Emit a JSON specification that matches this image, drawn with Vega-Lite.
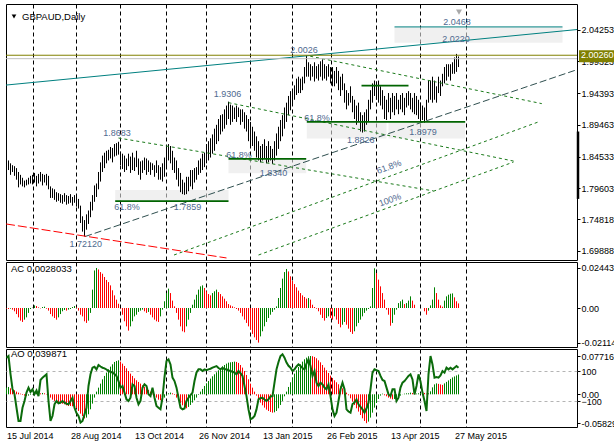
{
  "$schema": "https://vega.github.io/schema/vega-lite/v6.json",
  "background": "white",
  "padding": {"left": 2, "top": 3, "right": 0, "bottom": 0},
  "bounds": "flush",
  "spacing": 2,
  "config": {
    "view": {"stroke": "#000000", "strokeWidth": 1},
    "axis": {"labelFont": "Liberation Sans", "labelFontSize": 9, "labelColor": "#000000", "domain": false, "labelOverlap": false, "labelFlush": false},
    "text": {"font": "Liberation Sans", "fontSize": 9}
  },
  "datasets": {
    "d": [
      {"i":0,"h":1.8378,"l":1.8214,"ac":-0.0004,"ao":0.0134,"cci":189},
      {"i":1,"h":1.8393,"l":1.8244,"ac":-0.0006,"ao":0.0148,"cci":200},
      {"i":2,"h":1.8348,"l":1.8169,"ac":-0.0004,"ao":0.0121,"cci":80},
      {"i":3,"h":1.8319,"l":1.8214,"ac":-0.0010,"ao":0.0101,"cci":-20},
      {"i":4,"h":1.8304,"l":1.8154,"ac":-0.0020,"ao":0.0081,"cci":-55},
      {"i":5,"h":1.8274,"l":1.8094,"ac":-0.0037,"ao":0.0054,"cci":-145},
      {"i":6,"h":1.8214,"l":1.7975,"ac":-0.0057,"ao":0.0034,"cci":-233},
      {"i":7,"h":1.8169,"l":1.8020,"ac":-0.0077,"ao":0.0013,"cci":-233},
      {"i":8,"h":1.8124,"l":1.7990,"ac":-0.0085,"ao":-0.0013,"cci":-145},
      {"i":9,"h":1.8080,"l":1.7975,"ac":-0.0071,"ao":-0.0027,"cci":-100},
      {"i":10,"h":1.8094,"l":1.8005,"ac":-0.0057,"ao":-0.0034,"cci":-44},
      {"i":11,"h":1.8124,"l":1.8020,"ac":-0.0030,"ao":-0.0027,"cci":-11},
      {"i":12,"h":1.8154,"l":1.8035,"ac":-0.0006,"ao":-0.0013,"cci":-40},
      {"i":13,"h":1.8169,"l":1.8020,"ac":0.0002,"ao":0.0007,"cci":-22},
      {"i":14,"h":1.8199,"l":1.8050,"ac":0.0016,"ao":0.0020,"cci":-55},
      {"i":15,"h":1.8154,"l":1.7990,"ac":0.0012,"ao":0.0027,"cci":-30},
      {"i":16,"h":1.8184,"l":1.8035,"ac":0.0004,"ao":0.0020,"cci":-67},
      {"i":17,"h":1.8214,"l":1.8065,"ac":-0.0002,"ao":0.0019,"cci":40},
      {"i":18,"h":1.8184,"l":1.8005,"ac":0.0006,"ao":0.0027,"cci":56},
      {"i":19,"h":1.8169,"l":1.8050,"ac":0.0008,"ao":0.0020,"cci":67},
      {"i":20,"h":1.8184,"l":1.8005,"ac":-0.0004,"ao":-0.0007,"cci":78},
      {"i":21,"h":1.8154,"l":1.7945,"ac":-0.0016,"ao":-0.0034,"cci":-100},
      {"i":22,"h":1.7990,"l":1.7811,"ac":-0.0037,"ao":-0.0067,"cci":-233},
      {"i":23,"h":1.7960,"l":1.7811,"ac":-0.0051,"ao":-0.0108,"cci":-200},
      {"i":24,"h":1.7945,"l":1.7781,"ac":-0.0061,"ao":-0.0134,"cci":-122},
      {"i":25,"h":1.7900,"l":1.7751,"ac":-0.0071,"ao":-0.0168,"cci":-100},
      {"i":26,"h":1.7885,"l":1.7766,"ac":-0.0057,"ao":-0.0181,"cci":-115},
      {"i":27,"h":1.7870,"l":1.7736,"ac":-0.0037,"ao":-0.0188,"cci":-110},
      {"i":28,"h":1.7855,"l":1.7721,"ac":-0.0020,"ao":-0.0190,"cci":-100},
      {"i":29,"h":1.7885,"l":1.7751,"ac":-0.0012,"ao":-0.0202,"cci":-111},
      {"i":30,"h":1.7855,"l":1.7706,"ac":-0.0016,"ao":-0.0222,"cci":-118},
      {"i":31,"h":1.7841,"l":1.7721,"ac":-0.0010,"ao":-0.0235,"cci":-122},
      {"i":32,"h":1.7870,"l":1.7736,"ac":-0.0006,"ao":-0.0236,"cci":-100},
      {"i":33,"h":1.7826,"l":1.7691,"ac":0.0006,"ao":-0.0242,"cci":-78},
      {"i":34,"h":1.7855,"l":1.7736,"ac":0.0012,"ao":-0.0255,"cci":-145},
      {"i":35,"h":1.7841,"l":1.7676,"ac":0.0004,"ao":-0.0282,"cci":-180},
      {"i":36,"h":1.7796,"l":1.7646,"ac":-0.0016,"ao":-0.0336,"cci":-200},
      {"i":37,"h":1.7691,"l":1.7422,"ac":-0.0041,"ao":-0.0390,"cci":-244},
      {"i":38,"h":1.7526,"l":1.7288,"ac":-0.0051,"ao":-0.0437,"cci":-233},
      {"i":39,"h":1.7467,"l":1.7212,"ac":-0.0081,"ao":-0.0484,"cci":-189},
      {"i":40,"h":1.7556,"l":1.7318,"ac":-0.0091,"ao":-0.0470,"cci":-145},
      {"i":41,"h":1.7616,"l":1.7407,"ac":-0.0077,"ao":-0.0403,"cci":0},
      {"i":42,"h":1.7751,"l":1.7512,"ac":-0.0030,"ao":-0.0302,"cci":78},
      {"i":43,"h":1.7855,"l":1.7616,"ac":0.0112,"ao":-0.0188,"cci":122},
      {"i":44,"h":1.8005,"l":1.7751,"ac":0.0229,"ao":-0.0067,"cci":128},
      {"i":45,"h":1.8035,"l":1.7826,"ac":0.0244,"ao":0.0054,"cci":111},
      {"i":46,"h":1.8214,"l":1.7945,"ac":0.0235,"ao":0.0134,"cci":140},
      {"i":47,"h":1.8363,"l":1.8065,"ac":0.0219,"ao":0.0215,"cci":130},
      {"i":48,"h":1.8468,"l":1.8214,"ac":0.0209,"ao":0.0302,"cci":122},
      {"i":49,"h":1.8513,"l":1.8274,"ac":0.0189,"ao":0.0370,"cci":118},
      {"i":50,"h":1.8543,"l":1.8348,"ac":0.0171,"ao":0.0437,"cci":110},
      {"i":51,"h":1.8558,"l":1.8393,"ac":0.0158,"ao":0.0504,"cci":100},
      {"i":52,"h":1.8602,"l":1.8423,"ac":0.0138,"ao":0.0558,"cci":95},
      {"i":53,"h":1.8587,"l":1.8363,"ac":0.0108,"ao":0.0605,"cci":89},
      {"i":54,"h":1.8647,"l":1.8453,"ac":0.0077,"ao":0.0652,"cci":80},
      {"i":55,"h":1.8662,"l":1.8468,"ac":0.0051,"ao":0.0672,"cci":67},
      {"i":56,"h":1.8683,"l":1.8483,"ac":0.0026,"ao":0.0685,"cci":33},
      {"i":57,"h":1.8528,"l":1.8319,"ac":-0.0004,"ao":0.0659,"cci":-11},
      {"i":58,"h":1.8498,"l":1.8259,"ac":-0.0041,"ao":0.0618,"cci":0},
      {"i":59,"h":1.8468,"l":1.8214,"ac":-0.0081,"ao":0.0571,"cci":-44},
      {"i":60,"h":1.8423,"l":1.8244,"ac":-0.0112,"ao":0.0524,"cci":-89},
      {"i":61,"h":1.8498,"l":1.8304,"ac":-0.0138,"ao":0.0470,"cci":-100},
      {"i":62,"h":1.8453,"l":1.8199,"ac":-0.0112,"ao":0.0417,"cci":-78},
      {"i":63,"h":1.8513,"l":1.8244,"ac":-0.0081,"ao":0.0370,"cci":11},
      {"i":64,"h":1.8438,"l":1.8229,"ac":-0.0051,"ao":0.0323,"cci":0},
      {"i":65,"h":1.8543,"l":1.8289,"ac":-0.0041,"ao":0.0282,"cci":-78},
      {"i":66,"h":1.8423,"l":1.8169,"ac":-0.0024,"ao":0.0249,"cci":-122},
      {"i":67,"h":1.8378,"l":1.8094,"ac":-0.0016,"ao":0.0215,"cci":-100},
      {"i":68,"h":1.8393,"l":1.8199,"ac":-0.0010,"ao":0.0181,"cci":-11},
      {"i":69,"h":1.8438,"l":1.8244,"ac":-0.0020,"ao":0.0148,"cci":11},
      {"i":70,"h":1.8423,"l":1.8169,"ac":-0.0030,"ao":0.0114,"cci":0},
      {"i":71,"h":1.8393,"l":1.8214,"ac":-0.0024,"ao":0.0087,"cci":-55},
      {"i":72,"h":1.8363,"l":1.8169,"ac":-0.0041,"ao":0.0054,"cci":-67},
      {"i":73,"h":1.8348,"l":1.8244,"ac":-0.0057,"ao":0.0013,"cci":-11},
      {"i":74,"h":1.8319,"l":1.8139,"ac":-0.0071,"ao":-0.0027,"cci":-78},
      {"i":75,"h":1.8393,"l":1.8199,"ac":-0.0081,"ao":-0.0067,"cci":-133},
      {"i":76,"h":1.8319,"l":1.8094,"ac":-0.0085,"ao":-0.0108,"cci":-145},
      {"i":77,"h":1.8289,"l":1.8094,"ac":-0.0051,"ao":-0.0121,"cci":-155},
      {"i":78,"h":1.8348,"l":1.8065,"ac":-0.0010,"ao":-0.0101,"cci":-78},
      {"i":79,"h":1.8438,"l":1.8139,"ac":0.0041,"ao":-0.0067,"cci":60},
      {"i":80,"h":1.8587,"l":1.8289,"ac":0.0091,"ao":-0.0020,"cci":167},
      {"i":81,"h":1.8647,"l":1.8393,"ac":0.0118,"ao":0.0020,"cci":178},
      {"i":82,"h":1.8617,"l":1.8348,"ac":0.0091,"ao":0.0034,"cci":144},
      {"i":83,"h":1.8543,"l":1.8244,"ac":0.0045,"ao":0.0020,"cci":56},
      {"i":84,"h":1.8438,"l":1.8199,"ac":0.0010,"ao":-0.0013,"cci":33},
      {"i":85,"h":1.8393,"l":1.8094,"ac":-0.0030,"ao":-0.0067,"cci":-11},
      {"i":86,"h":1.8274,"l":1.7990,"ac":-0.0071,"ao":-0.0121,"cci":-78},
      {"i":87,"h":1.8199,"l":1.7900,"ac":-0.0112,"ao":-0.0175,"cci":-145},
      {"i":88,"h":1.8094,"l":1.7870,"ac":-0.0142,"ao":-0.0222,"cci":-155},
      {"i":89,"h":1.8050,"l":1.7859,"ac":-0.0148,"ao":-0.0269,"cci":-150},
      {"i":90,"h":1.8139,"l":1.7870,"ac":-0.0112,"ao":-0.0282,"cci":-100},
      {"i":91,"h":1.8139,"l":1.7915,"ac":-0.0071,"ao":-0.0255,"cci":-78},
      {"i":92,"h":1.8244,"l":1.7990,"ac":-0.0030,"ao":-0.0215,"cci":-60},
      {"i":93,"h":1.8244,"l":1.7945,"ac":0.0020,"ao":-0.0168,"cci":-44},
      {"i":94,"h":1.8274,"l":1.8050,"ac":0.0051,"ao":-0.0121,"cci":33},
      {"i":95,"h":1.8289,"l":1.8094,"ac":0.0081,"ao":-0.0067,"cci":90},
      {"i":96,"h":1.8393,"l":1.8169,"ac":0.0112,"ao":-0.0013,"cci":111},
      {"i":97,"h":1.8423,"l":1.8199,"ac":0.0132,"ao":0.0054,"cci":111},
      {"i":98,"h":1.8498,"l":1.8244,"ac":0.0138,"ao":0.0108,"cci":100},
      {"i":99,"h":1.8513,"l":1.8289,"ac":0.0122,"ao":0.0168,"cci":111},
      {"i":100,"h":1.8647,"l":1.8348,"ac":0.0102,"ao":0.0222,"cci":105},
      {"i":101,"h":1.8692,"l":1.8393,"ac":0.0085,"ao":0.0269,"cci":111},
      {"i":102,"h":1.8737,"l":1.8438,"ac":0.0077,"ao":0.0316,"cci":115},
      {"i":103,"h":1.8797,"l":1.8498,"ac":0.0091,"ao":0.0363,"cci":122},
      {"i":104,"h":1.8886,"l":1.8543,"ac":0.0102,"ao":0.0403,"cci":128},
      {"i":105,"h":1.8946,"l":1.8647,"ac":0.0112,"ao":0.0444,"cci":133},
      {"i":106,"h":1.9036,"l":1.8692,"ac":0.0097,"ao":0.0484,"cci":120},
      {"i":107,"h":1.9096,"l":1.8797,"ac":0.0085,"ao":0.0524,"cci":111},
      {"i":108,"h":1.9111,"l":1.8842,"ac":0.0071,"ao":0.0564,"cci":122},
      {"i":109,"h":1.9186,"l":1.8886,"ac":0.0057,"ao":0.0591,"cci":111},
      {"i":110,"h":1.9245,"l":1.8946,"ac":0.0041,"ao":0.0618,"cci":111},
      {"i":111,"h":1.9306,"l":1.9036,"ac":0.0024,"ao":0.0638,"cci":105},
      {"i":112,"h":1.9260,"l":1.8946,"ac":0.0016,"ao":0.0645,"cci":100},
      {"i":113,"h":1.9245,"l":1.8991,"ac":0.0010,"ao":0.0652,"cci":95},
      {"i":114,"h":1.9215,"l":1.9036,"ac":0.0004,"ao":0.0659,"cci":89},
      {"i":115,"h":1.9245,"l":1.8991,"ac":-0.0006,"ao":0.0652,"cci":78},
      {"i":116,"h":1.9215,"l":1.9066,"ac":-0.0016,"ao":0.0632,"cci":100},
      {"i":117,"h":1.9186,"l":1.8946,"ac":-0.0030,"ao":0.0591,"cci":85},
      {"i":118,"h":1.9186,"l":1.8991,"ac":-0.0051,"ao":0.0538,"cci":67},
      {"i":119,"h":1.9141,"l":1.8886,"ac":-0.0071,"ao":0.0470,"cci":0},
      {"i":120,"h":1.9096,"l":1.8842,"ac":-0.0091,"ao":0.0390,"cci":-67},
      {"i":121,"h":1.9036,"l":1.8692,"ac":-0.0112,"ao":0.0302,"cci":-156},
      {"i":122,"h":1.8991,"l":1.8587,"ac":-0.0132,"ao":0.0215,"cci":-222},
      {"i":123,"h":1.8916,"l":1.8617,"ac":-0.0158,"ao":0.0134,"cci":-215},
      {"i":124,"h":1.8842,"l":1.8543,"ac":-0.0179,"ao":0.0054,"cci":-200},
      {"i":125,"h":1.8767,"l":1.8438,"ac":-0.0195,"ao":-0.0027,"cci":-156},
      {"i":126,"h":1.8692,"l":1.8393,"ac":-0.0211,"ao":-0.0101,"cci":-89},
      {"i":127,"h":1.8617,"l":1.8363,"ac":-0.0173,"ao":-0.0168,"cci":-80},
      {"i":128,"h":1.8647,"l":1.8393,"ac":-0.0142,"ao":-0.0222,"cci":-78},
      {"i":129,"h":1.8722,"l":1.8423,"ac":-0.0112,"ao":-0.0269,"cci":-90},
      {"i":130,"h":1.8617,"l":1.8348,"ac":-0.0085,"ao":-0.0309,"cci":-100},
      {"i":131,"h":1.8692,"l":1.8363,"ac":-0.0061,"ao":-0.0336,"cci":-89},
      {"i":132,"h":1.8617,"l":1.8393,"ac":-0.0041,"ao":-0.0356,"cci":-70},
      {"i":133,"h":1.8572,"l":1.8340,"ac":-0.0024,"ao":-0.0370,"cci":-67},
      {"i":134,"h":1.8692,"l":1.8393,"ac":-0.0010,"ao":-0.0363,"cci":22},
      {"i":135,"h":1.8812,"l":1.8468,"ac":0.0010,"ao":-0.0336,"cci":111},
      {"i":136,"h":1.8916,"l":1.8572,"ac":0.0061,"ao":-0.0282,"cci":160},
      {"i":137,"h":1.9021,"l":1.8692,"ac":0.0122,"ao":-0.0215,"cci":200},
      {"i":138,"h":1.9096,"l":1.8767,"ac":0.0179,"ao":-0.0134,"cci":211},
      {"i":139,"h":1.9215,"l":1.8886,"ac":0.0219,"ao":-0.0040,"cci":189},
      {"i":140,"h":1.9290,"l":1.8991,"ac":0.0238,"ao":0.0054,"cci":156},
      {"i":141,"h":1.9394,"l":1.9096,"ac":0.0223,"ao":0.0148,"cci":135},
      {"i":142,"h":1.9469,"l":1.9171,"ac":0.0193,"ao":0.0242,"cci":122},
      {"i":143,"h":1.9484,"l":1.9245,"ac":0.0166,"ao":0.0336,"cci":100},
      {"i":144,"h":1.9559,"l":1.9335,"ac":0.0146,"ao":0.0417,"cci":111},
      {"i":145,"h":1.9663,"l":1.9409,"ac":0.0126,"ao":0.0484,"cci":130},
      {"i":146,"h":1.9693,"l":1.9439,"ac":0.0106,"ao":0.0551,"cci":144},
      {"i":147,"h":1.9663,"l":1.9439,"ac":0.0091,"ao":0.0605,"cci":133},
      {"i":148,"h":1.9693,"l":1.9484,"ac":0.0077,"ao":0.0659,"cci":120},
      {"i":149,"h":1.9843,"l":1.9589,"ac":0.0067,"ao":0.0706,"cci":111},
      {"i":150,"h":2.0026,"l":1.9693,"ac":0.0057,"ao":0.0739,"cci":150},
      {"i":151,"h":1.9917,"l":1.9693,"ac":0.0061,"ao":0.0766,"cci":178},
      {"i":152,"h":1.9887,"l":1.9633,"ac":0.0051,"ao":0.0772,"cci":133},
      {"i":153,"h":1.9857,"l":1.9693,"ac":0.0020,"ao":0.0768,"cci":67},
      {"i":154,"h":1.9917,"l":1.9618,"ac":0.0006,"ao":0.0753,"cci":100},
      {"i":155,"h":1.9857,"l":1.9663,"ac":-0.0004,"ao":0.0726,"cci":22},
      {"i":156,"h":1.9887,"l":1.9633,"ac":-0.0020,"ao":0.0685,"cci":0},
      {"i":157,"h":1.9932,"l":1.9693,"ac":-0.0041,"ao":0.0645,"cci":22},
      {"i":158,"h":1.9962,"l":1.9633,"ac":-0.0061,"ao":0.0591,"cci":11},
      {"i":159,"h":1.9887,"l":1.9663,"ac":-0.0077,"ao":0.0538,"cci":-10},
      {"i":160,"h":1.9857,"l":1.9633,"ac":-0.0061,"ao":0.0484,"cci":-22},
      {"i":161,"h":1.9887,"l":1.9693,"ac":-0.0051,"ao":0.0430,"cci":11},
      {"i":162,"h":1.9843,"l":1.9589,"ac":-0.0061,"ao":0.0376,"cci":-67},
      {"i":163,"h":1.9843,"l":1.9544,"ac":-0.0071,"ao":0.0329,"cci":-156},
      {"i":164,"h":1.9783,"l":1.9544,"ac":-0.0051,"ao":0.0282,"cci":-200},
      {"i":165,"h":1.9843,"l":1.9589,"ac":-0.0071,"ao":0.0242,"cci":-178},
      {"i":166,"h":1.9783,"l":1.9484,"ac":-0.0097,"ao":0.0202,"cci":-100},
      {"i":167,"h":1.9693,"l":1.9394,"ac":-0.0118,"ao":0.0161,"cci":-22},
      {"i":168,"h":1.9738,"l":1.9484,"ac":-0.0102,"ao":0.0121,"cci":22},
      {"i":169,"h":1.9589,"l":1.9290,"ac":-0.0085,"ao":0.0081,"cci":-22},
      {"i":170,"h":1.9484,"l":1.9186,"ac":-0.0102,"ao":0.0034,"cci":-156},
      {"i":171,"h":1.9439,"l":1.9245,"ac":-0.0126,"ao":-0.0020,"cci":-170},
      {"i":172,"h":1.9544,"l":1.9290,"ac":-0.0146,"ao":-0.0081,"cci":-178},
      {"i":173,"h":1.9394,"l":1.9141,"ac":-0.0158,"ao":-0.0148,"cci":-120},
      {"i":174,"h":1.9335,"l":1.9036,"ac":-0.0142,"ao":-0.0215,"cci":-111},
      {"i":175,"h":1.9245,"l":1.8946,"ac":-0.0112,"ao":-0.0282,"cci":-89},
      {"i":176,"h":1.9290,"l":1.8991,"ac":-0.0091,"ao":-0.0349,"cci":-122},
      {"i":177,"h":1.9141,"l":1.8842,"ac":-0.0071,"ao":-0.0417,"cci":-140},
      {"i":178,"h":1.9096,"l":1.8826,"ac":-0.0051,"ao":-0.0484,"cci":-156},
      {"i":179,"h":1.9141,"l":1.8842,"ac":-0.0030,"ao":-0.0538,"cci":-178},
      {"i":180,"h":1.9186,"l":1.8946,"ac":-0.0016,"ao":-0.0583,"cci":-150},
      {"i":181,"h":1.9335,"l":1.8991,"ac":-0.0006,"ao":-0.0551,"cci":-111},
      {"i":182,"h":1.9484,"l":1.9186,"ac":0.0010,"ao":-0.0470,"cci":-22},
      {"i":183,"h":1.9589,"l":1.9290,"ac":0.0122,"ao":-0.0370,"cci":89},
      {"i":184,"h":1.9633,"l":1.9394,"ac":0.0242,"ao":-0.0269,"cci":111},
      {"i":185,"h":1.9618,"l":1.9335,"ac":0.0213,"ao":-0.0175,"cci":105},
      {"i":186,"h":1.9633,"l":1.9290,"ac":0.0173,"ao":-0.0094,"cci":100},
      {"i":187,"h":1.9544,"l":1.9245,"ac":0.0132,"ao":-0.0027,"cci":67},
      {"i":188,"h":1.9484,"l":1.9186,"ac":0.0091,"ao":0.0013,"cci":40},
      {"i":189,"h":1.9394,"l":1.9036,"ac":0.0051,"ao":-0.0020,"cci":33},
      {"i":190,"h":1.9335,"l":1.9021,"ac":-0.0010,"ao":-0.0040,"cci":-11},
      {"i":191,"h":1.9439,"l":1.9141,"ac":-0.0041,"ao":-0.0067,"cci":-56},
      {"i":192,"h":1.9365,"l":1.9036,"ac":-0.0108,"ao":-0.0087,"cci":-67},
      {"i":193,"h":1.9439,"l":1.9141,"ac":-0.0091,"ao":-0.0101,"cci":-22},
      {"i":194,"h":1.9394,"l":1.9096,"ac":-0.0041,"ao":-0.0094,"cci":-22},
      {"i":195,"h":1.9439,"l":1.9186,"ac":-0.0010,"ao":-0.0081,"cci":-100},
      {"i":196,"h":1.9335,"l":1.9111,"ac":0.0030,"ao":-0.0054,"cci":-78},
      {"i":197,"h":1.9409,"l":1.9186,"ac":0.0041,"ao":-0.0027,"cci":-11},
      {"i":198,"h":1.9439,"l":1.9141,"ac":0.0051,"ao":0.0003,"cci":22},
      {"i":199,"h":1.9365,"l":1.9096,"ac":0.0024,"ao":0.0013,"cci":33},
      {"i":200,"h":1.9439,"l":1.9215,"ac":0.0030,"ao":0.0020,"cci":50},
      {"i":201,"h":1.9469,"l":1.9245,"ac":0.0045,"ao":0.0021,"cci":67},
      {"i":202,"h":1.9439,"l":1.9186,"ac":0.0071,"ao":0.0034,"cci":78},
      {"i":203,"h":1.9365,"l":1.9141,"ac":0.0045,"ao":0.0027,"cci":44},
      {"i":204,"h":1.9439,"l":1.9111,"ac":0.0020,"ao":0.0013,"cci":-56},
      {"i":205,"h":1.9394,"l":1.9096,"ac":0.0000,"ao":0.0014,"cci":0},
      {"i":206,"h":1.9335,"l":1.9036,"ac":0.0000,"ao":0.0020,"cci":78},
      {"i":207,"h":1.9290,"l":1.8991,"ac":0.0000,"ao":0.0027,"cci":30},
      {"i":208,"h":1.9245,"l":1.9021,"ac":0.0000,"ao":0.0034,"cci":-44},
      {"i":209,"h":1.9215,"l":1.8979,"ac":-0.0020,"ao":0.0027,"cci":-100},
      {"i":210,"h":1.9335,"l":1.9021,"ac":-0.0041,"ao":0.0013,"cci":-167},
      {"i":211,"h":1.9633,"l":1.9290,"ac":-0.0016,"ao":0.0020,"cci":78},
      {"i":212,"h":1.9633,"l":1.9335,"ac":0.0016,"ao":0.0060,"cci":200},
      {"i":213,"h":1.9693,"l":1.9290,"ac":0.0051,"ao":0.0140,"cci":144},
      {"i":214,"h":1.9633,"l":1.9335,"ac":0.0126,"ao":0.0200,"cci":56},
      {"i":215,"h":1.9544,"l":1.9290,"ac":0.0091,"ao":0.0220,"cci":60},
      {"i":216,"h":1.9693,"l":1.9439,"ac":0.0051,"ao":0.0210,"cci":56},
      {"i":217,"h":1.9633,"l":1.9394,"ac":0.0016,"ao":0.0200,"cci":70},
      {"i":218,"h":1.9738,"l":1.9544,"ac":0.0008,"ao":0.0190,"cci":100},
      {"i":219,"h":1.9843,"l":1.9589,"ac":0.0045,"ao":0.0220,"cci":89},
      {"i":220,"h":1.9887,"l":1.9633,"ac":0.0071,"ao":0.0250,"cci":122},
      {"i":221,"h":1.9887,"l":1.9693,"ac":0.0081,"ao":0.0280,"cci":111},
      {"i":222,"h":1.9887,"l":1.9633,"ac":0.0087,"ao":0.0310,"cci":122},
      {"i":223,"h":1.9917,"l":1.9738,"ac":0.0089,"ao":0.0340,"cci":111},
      {"i":224,"h":1.9992,"l":1.9738,"ac":0.0065,"ao":0.0360,"cci":122},
      {"i":225,"h":2.0047,"l":1.9768,"ac":0.0041,"ao":0.0380,"cci":133},
      {"i":226,"h":2.0007,"l":1.9843,"ac":0.0028,"ao":0.0399,"cci":122}
    ],
    "zones": [
      {"i1":54.35,"i2":111,"p1":1.7761,"p2":1.7935},
      {"i1":111,"i2":149.85,"p1":1.8195,"p2":1.8419},
      {"i1":150.15,"i2":190,"p1":1.8732,"p2":1.8991},
      {"i1":191,"i2":229.35,"p1":1.8732,"p2":1.8991},
      {"i1":194,"i2":278,"p1":2.0221,"p2":2.0466}
    ],
    "segs": [
      {"kind":"channel","i1":-0.25,"p1":1.9563,"i2":285.25,"p2":2.0425},
      {"kind":"channel","i1":194,"p1":2.0466,"i2":278,"p2":2.0466},
      {"kind":"support","i1":-0.25,"p1":1.7407,"i2":110,"p2":1.6879},
      {"kind":"trend","i1":39.35,"p1":1.7212,"i2":285.25,"p2":1.9802},
      {"kind":"fork","i1":151.85,"p1":2.0011,"i2":267.65,"p2":1.9275},
      {"kind":"fork","i1":111,"p1":1.9290,"i2":254.35,"p2":1.8378},
      {"kind":"fork","i1":56,"p1":1.8741,"i2":213.5,"p2":1.7920},
      {"kind":"fork","i1":83.75,"p1":1.6925,"i2":266.85,"p2":1.9001},
      {"kind":"fork","i1":126,"p1":1.6925,"i2":253.5,"p2":1.8368},
      {"kind":"fib","i1":54.35,"p1":1.7761,"i2":111,"p2":1.7761},
      {"kind":"fib","i1":111,"p1":1.8418,"i2":149.85,"p2":1.8418},
      {"kind":"fib","i1":150.15,"p1":1.8991,"i2":229.35,"p2":1.8991},
      {"kind":"fib","i1":177.5,"p1":1.9554,"i2":201,"p2":1.9554}
    ],
    "labels": [
      {"i":39.6,"p":1.7089,"t":"1.72120"},
      {"i":55.25,"p":1.8816,"t":"1.8683"},
      {"i":60.25,"p":1.7672,"t":"61.8%"},
      {"i":90.5,"p":1.7672,"t":"1.7859"},
      {"i":110.5,"p":1.9429,"t":"1.9306"},
      {"i":116.25,"p":1.8483,"t":"61.8%"},
      {"i":133.5,"p":1.8204,"t":"1.8340"},
      {"i":148.75,"p":2.0112,"t":"2.0026"},
      {"i":155.25,"p":1.9058,"t":"61.8%"},
      {"i":177.1,"p":1.8703,"t":"1.8826"},
      {"i":208.25,"p":1.8831,"t":"1.8979"},
      {"i":225.25,"p":2.0549,"t":"2.0468"},
      {"i":224.75,"p":2.0286,"t":"2.0220"}
    ],
    "tines": [
      {"i":191.25,"p":1.8293,"t":"61.8%"},
      {"i":191.75,"p":1.7781,"t":"100%"}
    ],
    "quote": [{"p":2.0026,"t":"2.00260"}],
    "levels": [{"p":1.9973}]
  },
  "vconcat": [
    {
      "width": 571,
      "height": 256,
      "layer": [
        {
          "data": {"name": "zones"},
          "mark": {"type": "rect", "color": "#e6e6e6", "opacity": 0.6},
          "encoding": {
            "x": {"field": "i1", "type": "quantitative", "scale": {"domain": [-0.25, 285.25], "nice": false, "zero": false},
              "axis": {"values": [13.5, 34.5, 56.5, 79.5, 99.5, 121.5, 142.5, 162, 184.5, 206.5, 229.5], "tickCount": 100, "labels": false, "ticks": false, "grid": true, "gridColor": "#000000", "gridDash": [4, 3], "title": null}},
            "x2": {"field": "i2"},
            "y": {"field": "p1", "type": "quantitative", "scale": {"domain": [1.6925, 2.0744], "nice": false, "zero": false},
              "axis": {"orient": "right", "values": [2.04253, 1.99323, 1.94393, 1.89463, 1.84533, 1.79603, 1.74818, 1.69888], "tickCount": 100, "format": ".5f", "labelOverlap": false, "grid": false, "tickSize": 3, "tickColor": "#000000", "labelPadding": 1, "title": null}},
            "y2": {"field": "p2"}
          }
        },
        {
          "data": {"name": "d"},
          "mark": {"type": "rule", "color": "#000000", "strokeWidth": 1},
          "encoding": {
            "x": {"field": "i", "type": "quantitative"},
            "y": {"field": "l", "type": "quantitative"},
            "y2": {"field": "h"}
          }
        },
        {
          "data": {"name": "segs"},
          "transform": [{"filter": "datum.kind === 'channel'"}],
          "mark": {"type": "rule", "color": "#008080", "strokeWidth": 1},
          "encoding": {
            "x": {"field": "i1", "type": "quantitative"},
            "x2": {"field": "i2"},
            "y": {"field": "p1", "type": "quantitative"},
            "y2": {"field": "p2"}
          }
        },
        {
          "data": {"name": "segs"},
          "transform": [{"filter": "datum.kind === 'trend'"}],
          "mark": {"type": "rule", "color": "#2f4f4f", "strokeWidth": 1, "strokeDash": [7, 3]},
          "encoding": {
            "x": {"field": "i1", "type": "quantitative"},
            "x2": {"field": "i2"},
            "y": {"field": "p1", "type": "quantitative"},
            "y2": {"field": "p2"}
          }
        },
        {
          "data": {"name": "segs"},
          "transform": [{"filter": "datum.kind === 'support'"}],
          "mark": {"type": "rule", "color": "#ff0000", "strokeWidth": 1, "strokeDash": [9, 3], "clip": true},
          "encoding": {
            "x": {"field": "i1", "type": "quantitative"},
            "x2": {"field": "i2"},
            "y": {"field": "p1", "type": "quantitative"},
            "y2": {"field": "p2"}
          }
        },
        {
          "data": {"name": "segs"},
          "transform": [{"filter": "datum.kind === 'fork'"}],
          "mark": {"type": "rule", "color": "#1a7a1a", "strokeWidth": 1, "strokeDash": [3, 3], "clip": true},
          "encoding": {
            "x": {"field": "i1", "type": "quantitative"},
            "x2": {"field": "i2"},
            "y": {"field": "p1", "type": "quantitative"},
            "y2": {"field": "p2"}
          }
        },
        {
          "data": {"name": "segs"},
          "transform": [{"filter": "datum.kind === 'fib'"}],
          "mark": {"type": "rule", "color": "#006400", "strokeWidth": 1.6},
          "encoding": {
            "x": {"field": "i1", "type": "quantitative"},
            "x2": {"field": "i2"},
            "y": {"field": "p1", "type": "quantitative"},
            "y2": {"field": "p2"}
          }
        },
        {
          "data": {"name": "levels"},
          "mark": {"type": "rule", "color": "#c0c0c0", "strokeWidth": 1},
          "encoding": {"y": {"field": "p", "type": "quantitative"}}
        },
        {
          "data": {"name": "quote"},
          "mark": {"type": "rule", "color": "#808000", "strokeWidth": 1},
          "encoding": {"y": {"field": "p", "type": "quantitative"}}
        },
        {
          "data": {"name": "labels"},
          "mark": {"type": "text", "color": "#4f6a8f", "align": "center", "baseline": "middle"},
          "encoding": {
            "x": {"field": "i", "type": "quantitative"},
            "y": {"field": "p", "type": "quantitative"},
            "text": {"field": "t"}
          }
        },
        {
          "data": {"name": "tines"},
          "mark": {"type": "text", "color": "#4f6a8f", "align": "center", "baseline": "middle", "angle": 340},
          "encoding": {
            "x": {"field": "i", "type": "quantitative"},
            "y": {"field": "p", "type": "quantitative"},
            "text": {"field": "t"}
          }
        },
        {
          "data": {"values": [{}]},
          "mark": {"type": "point", "shape": "triangle-down", "filled": true, "color": "#000000", "size": 22, "opacity": 1},
          "encoding": {
            "x": {"datum": 3.75, "type": "quantitative"},
            "y": {"datum": 2.0627, "type": "quantitative"}
          }
        },
        {
          "data": {"values": [{}]},
          "mark": {"type": "text", "align": "left", "baseline": "middle", "color": "#000000", "fontSize": 9.5},
          "encoding": {
            "x": {"datum": 7.75, "type": "quantitative"},
            "y": {"datum": 2.0624, "type": "quantitative"},
            "text": {"value": "GBPAUD,Daily"}
          }
        },
        {
          "data": {"values": [{}]},
          "mark": {"type": "point", "shape": "triangle-down", "filled": true, "color": "#a9a9a9", "size": 36, "opacity": 1},
          "encoding": {
            "x": {"datum": 226.25, "type": "quantitative"},
            "y": {"datum": 2.0694, "type": "quantitative"}
          }
        },
        {
          "data": {"values": [{}]},
          "mark": {"type": "rule", "color": "#000000", "strokeWidth": 2.5},
          "encoding": {
            "x": {"datum": 285.75, "type": "quantitative"},
            "y": {"datum": 1.8842, "type": "quantitative"},
            "y2": {"datum": 1.7796}
          }
        },
        {
          "data": {"name": "quote"},
          "mark": {"type": "bar", "color": "#808000", "height": 12, "yOffset": 1},
          "encoding": {
            "x": {"datum": 286.25, "type": "quantitative"},
            "x2": {"datum": 306.5},
            "y": {"field": "p", "type": "quantitative"}
          }
        },
        {
          "data": {"name": "quote"},
          "mark": {"type": "text", "color": "#ffffff", "align": "left", "baseline": "middle"},
          "encoding": {
            "x": {"datum": 287.25, "type": "quantitative"},
            "y": {"field": "p", "type": "quantitative"},
            "text": {"field": "t"}
          }
        }
      ]
    },
    {
      "width": 571,
      "height": 85,
      "layer": [
        {
          "data": {"name": "d"},
          "transform": [{"window": [{"op": "lag", "field": "ac", "as": "prev"}], "sort": [{"field": "i", "order": "ascending"}]}],
          "mark": {"type": "rule", "strokeWidth": 1},
          "encoding": {
            "x": {"field": "i", "type": "quantitative", "scale": {"domain": [-0.25, 285.25], "nice": false, "zero": false},
              "axis": {"values": [13.5, 34.5, 56.5, 79.5, 99.5, 121.5, 142.5, 162, 184.5, 206.5, 229.5], "tickCount": 100, "labels": false, "ticks": false, "grid": true, "gridColor": "#000000", "gridDash": [4, 3], "title": null}},
            "y": {"field": "ac", "type": "quantitative", "scale": {"domain": [-0.02378, 0.02805], "nice": false, "zero": false},
              "axis": {"orient": "right", "values": [0.024433, 0, -0.02114], "tickCount": 100, "labelExpr": "datum.value > 0.02 ? '0.024433' : datum.value < -0.02 ? '-0.02114' : '0.00'", "labelOverlap": false, "grid": false, "tickSize": 3, "tickColor": "#000000", "labelPadding": 1, "title": null}},
            "y2": {"datum": 0},
            "color": {"condition": {"test": "datum.ac > datum.prev", "value": "#008000"}, "value": "#ff0000"}
          }
        },
        {
          "data": {"values": [{}]},
          "mark": {"type": "text", "align": "left", "baseline": "middle", "color": "#000000", "fontSize": 9.5},
          "encoding": {
            "x": {"datum": 2.25, "type": "quantitative"},
            "y": {"datum": 0.0238, "type": "quantitative"},
            "text": {"value": "AC 0,0028033"}
          }
        }
      ]
    },
    {
      "width": 571,
      "height": 78,
      "layer": [
        {
          "data": {"name": "d"},
          "transform": [{"window": [{"op": "lag", "field": "ao", "as": "prev"}], "sort": [{"field": "i", "order": "ascending"}]}],
          "mark": {"type": "rule", "strokeWidth": 1},
          "encoding": {
            "x": {"field": "i", "type": "quantitative", "scale": {"domain": [-0.25, 285.25], "nice": false, "zero": false},
              "axis": {
                "values": [0, 13.5, 32, 34.5, 56.5, 64, 79.5, 96, 99.5, 121.5, 128, 142.5, 160, 162, 184.5, 192, 206.5, 224, 229.5],
                "tickCount": 100,
                "labelExpr": "datum.value % 32 === 0 ? ['15 Jul 2014','28 Aug 2014','13 Oct 2014','26 Nov 2014','13 Jan 2015','26 Feb 2015','13 Apr 2015','27 May 2015'][datum.value / 32] : ''",
                "labelAlign": "left", "labelPadding": 4, "labelOverlap": false, "ticks": false,
                "grid": true, "gridColor": "#000000", "gridDash": [4, 3],
                "gridOpacity": {"condition": {"test": "datum.value % 32 !== 0", "value": 1}, "value": 0},
                "title": null}},
            "y": {"field": "ao", "type": "quantitative", "scale": {"domain": [-0.06593, 0.09133], "nice": false, "zero": false},
              "axis": {"orient": "right", "values": [0.077162, 0, -0.05829], "tickCount": 100, "labelExpr": "datum.value > 0.05 ? '0.077162' : datum.value < -0.05 ? '-0.05829' : '0.00'", "labelOverlap": false, "grid": false, "tickSize": 3, "tickColor": "#000000", "labelPadding": 1, "title": null}},
            "y2": {"datum": 0},
            "color": {"condition": {"test": "datum.ao > datum.prev", "value": "#008000"}, "value": "#ff0000"}
          }
        },
        {
          "data": {"name": "d"},
          "mark": {"type": "line", "color": "#0b6b0b", "strokeWidth": 2},
          "encoding": {
            "x": {"field": "i", "type": "quantitative"},
            "y": {"field": "cci", "type": "quantitative", "scale": {"domain": [-273.3, 246.7], "nice": false, "zero": false},
              "axis": {"orient": "right", "values": [100, -100], "tickCount": 100, "labelOverlap": false, "grid": true, "gridColor": "#b4b4b4", "gridDash": [3, 3], "tickSize": 3, "tickColor": "#000000", "labelPadding": 1, "title": null}}
          }
        },
        {
          "data": {"values": [{}]},
          "mark": {"type": "text", "align": "left", "baseline": "middle", "color": "#000000", "fontSize": 9.5},
          "encoding": {
            "x": {"datum": 2.25, "type": "quantitative"},
            "y": {"datum": 0.0813, "type": "quantitative", "scale": {"domain": [-0.06593, 0.09133], "nice": false, "zero": false}, "axis": null},
            "text": {"value": "AO 0,039871"}
          }
        }
      ],
      "resolve": {"scale": {"y": "independent"}, "axis": {"y": "independent"}}
    }
  ]
}
